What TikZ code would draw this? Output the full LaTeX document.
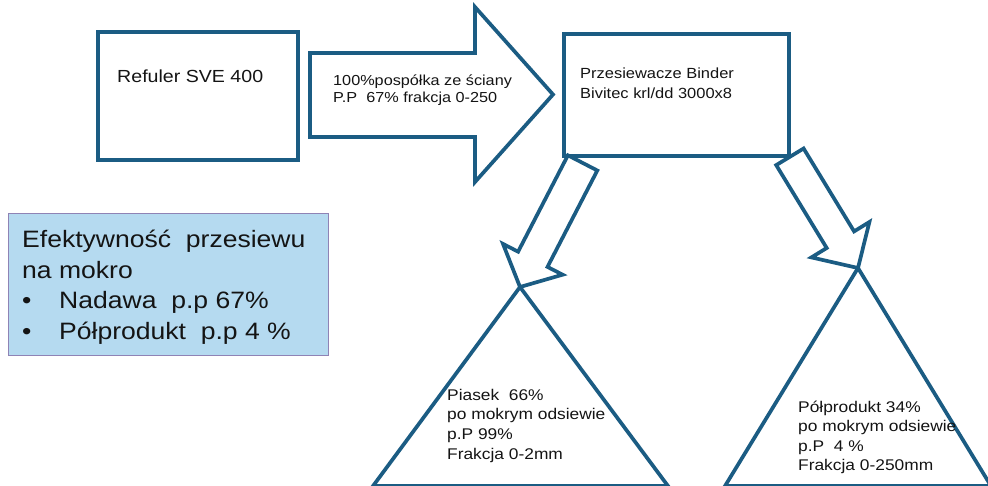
\documentclass[tikz,border=0pt]{standalone}
\usepackage{fontspec}
\setmainfont{Liberation Sans}[FakeStretch=1.12]
\definecolor{lineblue}{HTML}{1B5C83}
\definecolor{legfill}{HTML}{B5DAF0}
\definecolor{legedge}{HTML}{8F83B5}
\definecolor{txt}{HTML}{141414}
\begin{document}
\begin{tikzpicture}[x=1pt,y=-1pt,
  shp/.style={draw=lineblue,line width=3.7pt,fill=white},
  boxnode/.style={shp,anchor=north west,inner sep=0pt},
  lbl/.style={anchor=north west,inner sep=0pt,align=left,text=txt},
]
\useasboundingbox (0,0) rectangle (988,486);
\fill[white] (0,0) rectangle (988,486);

% triangles
\coordinate (apexL) at (520,287);
\coordinate (apexR) at (858,268);
\draw[shp] (apexL) -- (668,486) -- (373,486) -- cycle;
\draw[shp] (apexR) -- (991,486) -- (725,486) -- cycle;

% big horizontal arrow
\draw[shp] (310,53) -- (475,53) -- (475,7) -- (553,94.5) -- (475,182) -- (475,137) -- (310,137) -- cycle;

% boxes
\node[boxnode,minimum width=200pt,minimum height=128pt] (refuler) at (96,30) {};
\node[boxnode,minimum width=225pt,minimum height=122pt] (binder) at (562,32) {};

% down-left arrow
\draw[shp] (567.9,155.3) -- (597.3,170.5) -- (547.5,266.9) -- (562.6,274.7) -- (apexL)
  -- (503,243.9) -- (518.1,251.7) -- cycle;
% down-right arrow
\draw[shp] (776.2,165.1) -- (803.6,148.5) -- (854.1,231.4) -- (869.4,222) -- (apexR)
  -- (811.4,257.4) -- (826.7,248) -- cycle;

% legend
\node[draw=legedge,fill=legfill,line width=1.2pt,anchor=north west,inner sep=0pt,
  minimum width=320pt,minimum height=142pt] (legend) at (8,213) {};

% texts
\node[lbl,anchor=base west,font=\fontsize{17.5}{21}\selectfont] (trefuler) at (117,83) {Refuler SVE 400};
\node[lbl,font=\fontsize{14.5}{16.7}\selectfont] (tarrow) at (333,75) {100\%pospółka ze ściany\\P.P\ \ 67\% frakcja 0-250};
\node[lbl,font=\fontsize{14.7}{20}\selectfont] (tbinder) at (580,67.6) {Przesiewacze Binder\\Bivitec krl/dd 3000x8};
\node[lbl,font=\fontsize{15.5}{19.8}\selectfont] (tpiasek) at (447,388.7) {Piasek\ \ 66\%\\po mokrym odsiewie\\p.P 99\%\\Frakcja 0-2mm};
\node[lbl,font=\fontsize{15.5}{19.5}\selectfont] (tpolp) at (798,400.5) {Półprodukt 34\%\\po mokrym odsiewie\\p.P\ \ 4 \%\\Frakcja 0-250mm};
\node[lbl,font=\fontsize{23.7}{30.5}\selectfont] (tlegend) at (22,230.3) {Efektywność\ \ przesiewu\\na mokro\\\makebox[37pt][l]{•}Nadawa\ \ p.p 67\%\\\makebox[37pt][l]{•}Półprodukt\ \ p.p 4 \%};
\end{tikzpicture}
\end{document}
